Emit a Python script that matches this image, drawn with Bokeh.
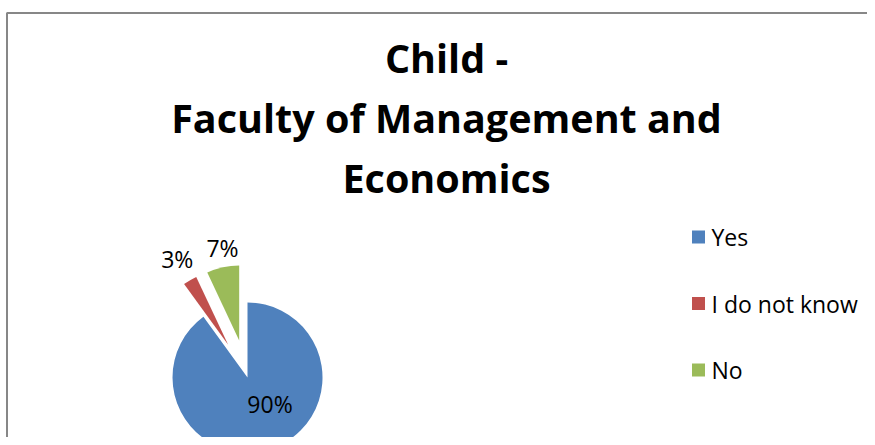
import numpy as np
from bokeh.plotting import figure
from bokeh.models import Range1d, ColumnDataSource
from bokeh.core.properties import value
from bokeh.embed import file_html
from bokeh.resources import INLINE

# ---- data ----
title_lines = ["Child -", "Faculty of Management and", "Economics"]
categories = ["Yes", "I do not know", "No"]
percents = [90, 3, 7]
colors = ["#4F81BD", "#C0504D", "#9BBB59"]

# ---- style / layout ----
FONT = "Open Sans"
explode = [0, 38, 38]           # px offset of each slice
label_r = [35, 138, 132]        # label distance from pie centre
label_nudge = [22, 0, -1.7]     # degrees
cx, cy, R = 247, -377, 75

p = figure(width=867, height=437, x_range=Range1d(0, 867), y_range=Range1d(-437, 0),
           output_backend="svg", toolbar_location=None, min_border=0,
           x_axis_location=None, y_axis_location=None)
p.grid.visible = False
p.outline_line_color = None
p.background_fill_color = "white"
p.border_fill_color = "white"

# chart border (top and left visible)
p.segment(x0=[6, 6.5], y0=[-12.5, -12.5], x1=[867, 6.5], y1=[-12.5, -437],
          line_color="#878787", line_width=2)

# title
p.text(x=[446] * 3, y=[-57, -117, -177], text=title_lines,
       text_font=value(FONT), text_font_style="bold", text_font_size="39.5px",
       text_align="center", text_baseline="middle", text_color="black")

# pie
tot = sum(percents)
frac = np.array(percents) / tot
cum = np.concatenate([[0], np.cumsum(frac)])
start = np.pi / 2 - 2 * np.pi * cum[:-1]
end = np.pi / 2 - 2 * np.pi * cum[1:]
mid = (start + end) / 2
xs = cx + np.array(explode) * np.cos(mid)
ys = cy + np.array(explode) * np.sin(mid)
src = ColumnDataSource(dict(x=xs, y=ys, start=start, end=end, color=colors))
p.wedge(x="x", y="y", radius=R, start_angle="start", end_angle="end",
        direction="clock", fill_color="color", line_color=None, source=src)

la = mid + np.radians(label_nudge)
lx = cx + np.array(label_r) * np.cos(la)
ly = cy + np.array(label_r) * np.sin(la)
labels = [f"{v}%" for v in percents]
p.text(x=lx, y=ly, text=labels, text_font=value(FONT), text_font_size="23px",
       text_align="center", text_baseline="middle", text_color="black")

# legend
ly0, dy = -236.5, -66.5
leg_y = [ly0 + i * dy for i in range(len(categories))]
p.scatter(x=[698] * 3, y=leg_y, marker="square", size=13, fill_color=colors, line_color=None)
p.text(x=[711] * 3, y=leg_y, text=categories, text_font=value(FONT), text_font_size="23px",
       text_align="left", text_baseline="middle", text_color="black")

open("out.html", "w").write(file_html(p, INLINE))
